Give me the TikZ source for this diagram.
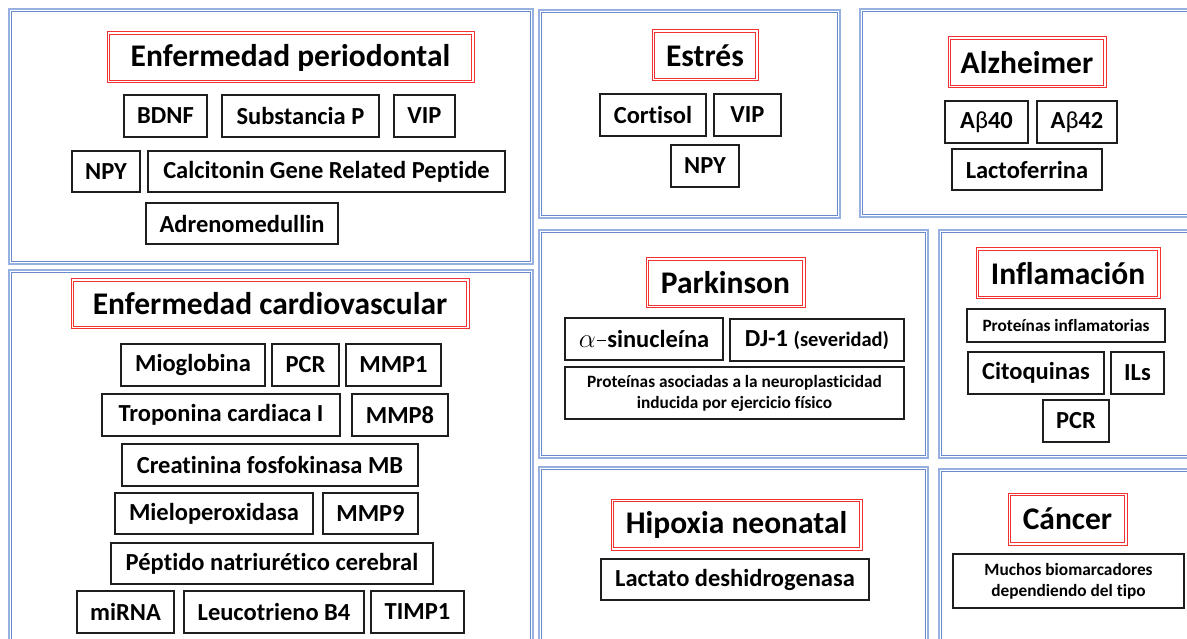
\RequirePackage{fix-cm}
\documentclass[tikz,border=0pt]{standalone}
\usepackage{fontspec}
\setmainfont{Carlito}[Ligatures={NoCommon}]
\definecolor{panelblue}{RGB}{105,138,205}
\definecolor{panelblue2}{RGB}{150,176,224}
\definecolor{titlered}{RGB}{240,50,50}
\definecolor{itemline}{RGB}{30,30,30}
\tikzset{
  panelout/.style={draw=panelblue2, line width=1.5pt},
  panelin/.style={draw=panelblue, line width=1.3pt},
  titlebox/.style={draw=titlered, line width=1pt, inner sep=0pt,
     font=\bfseries\fontsize{31.5}{34}\selectfont},
  titleinner/.style={draw=titlered, line width=0.9pt},
  itembox/.style={draw=itemline, line width=1.5pt, inner sep=0pt, font=\bfseries\fontsize{24.5}{27}\selectfont},
  smallbox/.style={itembox, align=center, font=\bfseries\fontsize{17.3}{21}\selectfont},
}
\newcommand\bnode[7]{%
  \pgfmathsetmacro\bw{#5-#3}\pgfmathsetmacro\bh{#6-#4}%
  \pgfmathsetmacro\bcx{(#3+#5)/2}\pgfmathsetmacro\bcy{(#4+#6)/2+1}%
  \node[#1, minimum width=\bw pt, minimum height=\bh pt] (#2) at (\bcx,\bcy) {#7};}
\newcommand\tnode[6]{%
  \bnode{titlebox}{#1}{#2}{#3}{#4}{#5}{#6}%
  \draw[titleinner] ([xshift=2.6pt,yshift=-2.6pt]#1.north west) rectangle ([xshift=-2.6pt,yshift=2.6pt]#1.south east);}
\newcommand\panel[4]{%
  \draw[panelout] (#1,#2) rectangle (#3,#4);
  \draw[panelin] ({#1+2.7},{#2+2.7}) rectangle ({#3-2.7},{#4-2.7});}
\begin{document}
\begin{tikzpicture}[x=1pt,y=-1pt]
\path[use as bounding box] (0,0) rectangle (1187,639);
\clip (0,0) rectangle (1187,639);
% panels
\panel{9}{9}{533}{264}
\panel{539}{10}{840}{218}
\panel{860}{9}{1196}{217}
\panel{9}{270}{533}{660}
\panel{539}{230}{928}{458}
\panel{939}{230}{1196}{458}
\panel{539}{467}{928}{660}
\panel{939}{469}{1196}{660}
% titles
\tnode{tper}{107}{31}{474}{82}{Enfermedad periodontal}
\tnode{test}{652}{29}{758}{80}{Estrés}
\tnode{talz}{948}{36}{1106}{87}{Alzheimer}
\tnode{tcar}{71}{278}{469}{328}{Enfermedad cardiovascular}
\tnode{tpar}{646}{257}{805}{307}{Parkinson}
\tnode{tinf}{976}{247}{1160}{298}{Inflamación}
\tnode{thip}{611}{498}{862}{549}{Hipoxia neonatal}
\tnode{tcan}{1008}{492}{1127}{544}{Cáncer}
% periodontal
\bnode{itembox}{bdnf}{124}{94}{207}{136}{BDNF}
\bnode{itembox}{subp}{222}{94}{379}{136}{Substancia P}
\bnode{itembox}{vip1}{394}{94}{455}{136}{VIP}
\bnode{itembox}{npy1}{72}{150}{140}{191}{NPY}
\bnode{itembox}{cgrp}{148}{150}{505}{191}{Calcitonin Gene Related Peptide}
\bnode{itembox}{adre}{146}{202}{338}{243}{Adrenomedullin}
% estres
\bnode{itembox}{cort}{600}{93}{706}{135}{Cortisol}
\bnode{itembox}{vip2}{714}{93}{781}{135}{VIP}
\bnode{itembox}{npy2}{671}{144}{739}{186}{NPY}
% alzheimer
\bnode{itembox}{ab40}{945}{100}{1028}{142}{A{\mdseries β}40}
\bnode{itembox}{ab42}{1037}{100}{1117}{142}{A{\mdseries β}42}
\bnode{itembox}{lact}{952}{148}{1102}{189}{Lactoferrina}
% parkinson
\bnode{itembox}{asin}{565}{317}{723}{359}{{\mdseries\fontsize{27}{28}\selectfont$\alpha$}\kern1pt\rule[6.5pt]{9pt}{0.8pt}\kern1.5pt sinucleína}
\bnode{itembox}{dj1}{730}{318}{904}{360}{DJ-1 {\fontsize{20.5}{22}\selectfont(severidad)}}
\bnode{smallbox}{prot}{565}{366}{904}{418}{Proteínas asociadas a la neuroplasticidad\\inducida por ejercicio físico}
% cardiovascular
\bnode{itembox}{miog}{121}{343}{265}{385}{Mioglobina}
\bnode{itembox}{pcr1}{272}{343}{339}{385}{PCR}
\bnode{itembox}{mmp1}{346}{343}{441}{385}{MMP1}
\bnode{itembox}{trop}{102}{393}{340}{435}{Troponina cardiaca I}
\bnode{itembox}{mmp8}{352}{393}{448}{435}{MMP8}
\bnode{itembox}{crea}{122}{443}{418}{485}{Creatinina fosfokinasa MB}
\bnode{itembox}{miel}{115}{492}{313}{533}{Mieloperoxidasa}
\bnode{itembox}{mmp9}{323}{492}{418}{533}{MMP9}
\bnode{itembox}{pept}{111}{542}{433}{583}{Péptido natriurético cerebral}
\bnode{itembox}{mirn}{77}{590}{174}{632}{miRNA}
\bnode{itembox}{leuc}{184}{590}{364}{632}{Leucotrieno B4}
\bnode{itembox}{timp}{371}{590}{464}{632}{TIMP1}
% inflamacion
\bnode{smallbox}{pinf}{967}{308}{1165}{341}{Proteínas inflamatorias}
\bnode{itembox}{cito}{968}{351}{1104}{393}{Citoquinas}
\bnode{itembox}{ils}{1111}{351}{1164}{393}{ILs}
\bnode{itembox}{pcr2}{1043}{399}{1109}{441}{PCR}
% hipoxia
\bnode{itembox}{ldh}{601}{558}{869}{599}{Lactato deshidrogenasa}
% cancer
\bnode{smallbox}{much}{953}{553}{1184}{607}{Muchos biomarcadores\\dependiendo del tipo}
\end{tikzpicture}
\end{document}
